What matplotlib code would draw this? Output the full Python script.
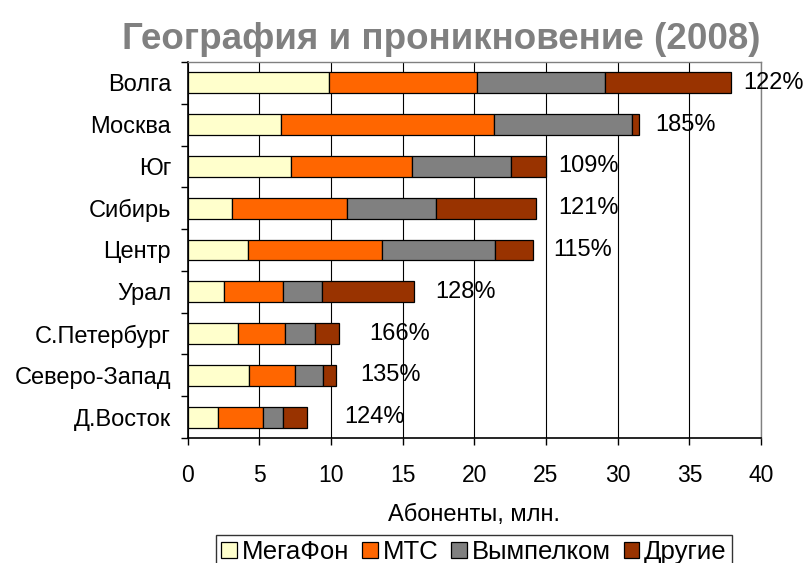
import matplotlib
matplotlib.use("Agg")
import matplotlib.pyplot as plt
import numpy as np

regions = ["Волга", "Москва", "Юг", "Сибирь", "Центр", "Урал",
           "С.Петербург", "Северо-Запад", "Д.Восток"]
megafon = [9.87, 6.48, 7.20, 3.12, 4.19, 2.51, 3.52, 4.30, 2.11]
mts = [10.28, 14.92, 8.44, 8.01, 9.34, 4.13, 3.26, 3.17, 3.15]
vimpelcom = [8.94, 9.63, 6.93, 6.16, 7.92, 2.70, 2.08, 1.95, 1.41]
others = [8.83, 0.43, 2.46, 6.99, 2.62, 6.48, 1.68, 0.93, 1.66]
penetration = ["122%", "185%", "109%", "121%", "115%", "128%", "166%", "135%", "124%"]
series_names = ["МегаФон", "МТС", "Вымпелком", "Другие"]
x_ticks = [0, 5, 10, 15, 20, 25, 30, 35, 40]

colors = ["#FFFFCC", "#FF6600", "#808080", "#993300"]
label_gap_px = [12, 17, 12, 23, 21, 21, 30, 24, 37]

plt.rcParams['font.family'] = ['Liberation Sans', 'DejaVu Sans']

fig = plt.figure(figsize=(8.09, 5.63), dpi=100)
ax = fig.add_axes([0.232, 0.222, 0.7087, 0.668])

y = np.arange(len(regions))
left = np.zeros(len(regions))
handles = []
for vals, c, name in zip([megafon, mts, vimpelcom, others], colors, series_names):
    h = ax.barh(y, vals, left=left, height=0.5, color=c, edgecolor="black",
                linewidth=0.9, label=name, zorder=3)
    handles.append(h)
    left = left + np.array(vals)

for yi, tot, lab, gap in zip(y, left, penetration, label_gap_px):
    ax.annotate(lab, xy=(tot, yi), xytext=(gap * 0.72, 0), textcoords="offset points",
                ha="left", va="center", fontsize=17, color="black", zorder=4)

ax.set_xlim(0, 40)
ax.set_ylim(len(regions) - 0.5, -0.5)
ax.set_xticks(x_ticks)
ax.set_xticklabels([str(t) for t in x_ticks], fontsize=16.5)
ax.set_yticks(y)
ax.set_yticklabels(regions, fontsize=17)
ax.tick_params(axis="y", length=0, pad=12)
ax.set_yticks(np.arange(len(regions) + 1) - 0.5, minor=True)
ax.tick_params(axis="y", which="minor", length=5, direction="out", width=1)
ax.tick_params(axis="x", length=5, direction="out", width=1, pad=14)
ax.grid(axis="x", color="black", linewidth=0.8, zorder=0)
for s in ["left", "bottom"]:
    ax.spines[s].set_color("black")
    ax.spines[s].set_linewidth(1.2)
for s in ["top", "right"]:
    ax.spines[s].set_color("#808080")
    ax.spines[s].set_linewidth(1.0)

ax.set_xlabel("Абоненты, млн.", fontsize=17, labelpad=12)

fig.text(0.546, 0.93, "География и проникновение (2008)", ha="center", va="center",
         fontsize=26.5, fontweight="bold", color="#808080")

leg = fig.legend(handles=handles, labels=series_names, loc="upper center",
                 bbox_to_anchor=(0.586, 0.05), ncol=4, fontsize=18.5, frameon=True,
                 fancybox=False, edgecolor="black", handlelength=0.6, handleheight=0.6,
                 handletextpad=0.2, columnspacing=0.5, borderpad=0.2, borderaxespad=0)
leg.get_frame().set_linewidth(1.0)

fig.savefig("out.png", dpi=100)
